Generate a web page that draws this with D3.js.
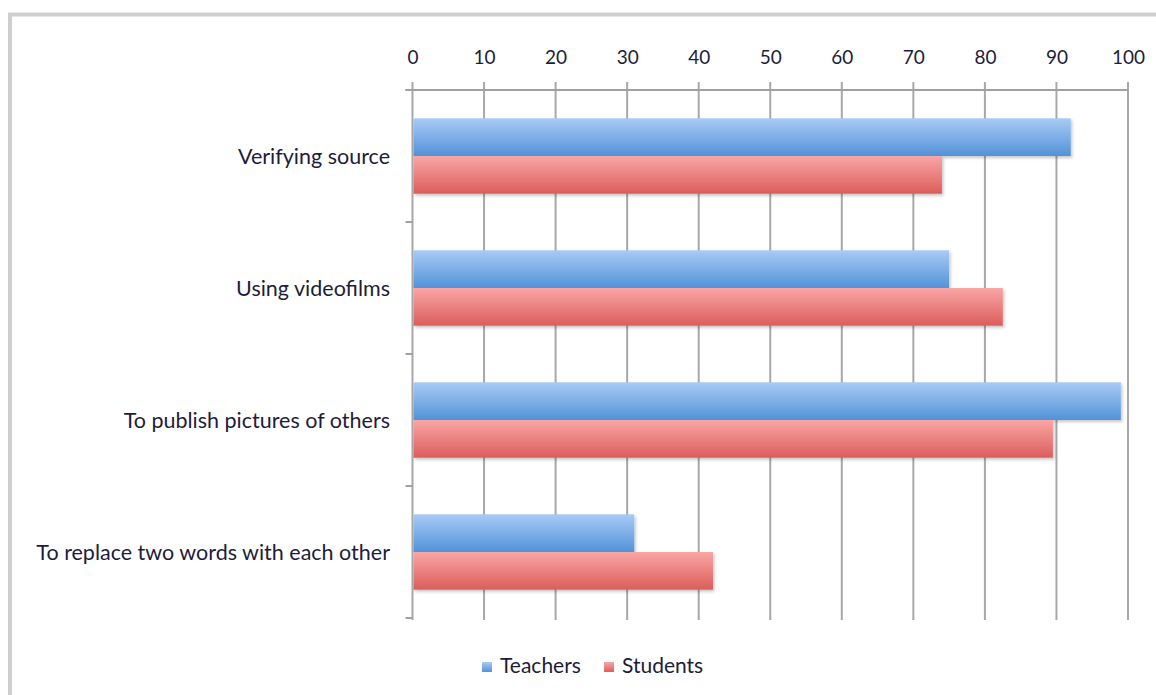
<!DOCTYPE html>
<html>
<head>
<meta charset="utf-8">
<script src="https://cdn.jsdelivr.net/npm/d3@7"></script>
<style>
  html, body { margin: 0; padding: 0; background: #fff; }
  svg { display: block; }
  text { font-family: Lato, "Open Sans", sans-serif; fill: #1d1d3a; }
</style>
</head>
<body>
<script>
// Survey responses (%) per question, teachers vs students
const categories = [
  "Verifying source",
  "Using videofilms",
  "To publish pictures of others",
  "To replace two words with each other"
];
const seriesNames = ["Teachers", "Students"];
const teachers = [92, 75, 99, 31];
const students = [74, 82.5, 89.5, 42];
const tickValues = [0, 10, 20, 30, 40, 50, 60, 70, 80, 90, 100];

const W = 1156, H = 695;
const margin = { left: 412.5, right: 28, top: 90, bottom: 77 };

const svg = d3.select("body").append("svg")
  .attr("width", W).attr("height", H);

const defs = svg.append("defs");

// vertical gradients for the bars
const gradStops = {
  Teachers: ["#a9cbf6", "#5292d8"],
  Students: ["#f9a6a5", "#dc5d5b"]
};
seriesNames.forEach(name => {
  const g = defs.append("linearGradient")
    .attr("id", "grad-" + name)
    .attr("x1", 0).attr("y1", 0).attr("x2", 0).attr("y2", 1);
  g.append("stop").attr("offset", "0%").attr("stop-color", gradStops[name][0]);
  g.append("stop").attr("offset", "100%").attr("stop-color", gradStops[name][1]);
});

const shadow = defs.append("filter").attr("id", "barShadow")
  .attr("x", "-5%").attr("y", "-20%").attr("width", "110%").attr("height", "150%");
shadow.append("feDropShadow")
  .attr("dx", 1.5).attr("dy", 2).attr("stdDeviation", 1.5)
  .attr("flood-color", "#000").attr("flood-opacity", 0.22);

// outer frame
svg.append("rect")
  .attr("x", 10).attr("y", 14.5)
  .attr("width", W + 20).attr("height", H + 20)
  .attr("fill", "none").attr("stroke", "#cfcfcf").attr("stroke-width", 4);

const x = d3.scaleLinear().domain([0, 100])
  .range([margin.left, W - margin.right]);
const y = d3.scaleBand().domain(categories)
  .range([margin.top, H - margin.bottom]);
const ySub = d3.scaleBand().domain(seriesNames)
  .range([0, y.bandwidth()]).paddingOuter(0.75).paddingInner(0);

// vertical gridlines (with small tick stubs above the axis)
svg.append("g").selectAll("line").data(tickValues).join("line")
  .attr("x1", d => x(d)).attr("x2", d => x(d))
  .attr("y1", margin.top - 8).attr("y2", H - margin.bottom + 2)
  .attr("stroke", "#a8a8a8").attr("stroke-width", 2);

// top axis line
svg.append("line")
  .attr("x1", margin.left - 7).attr("x2", x(100))
  .attr("y1", margin.top).attr("y2", margin.top)
  .attr("stroke", "#a0a0a0").attr("stroke-width", 2);

// category axis with ticks at band boundaries
const boundaries = categories.map(c => y(c)).concat([y.range()[1]]);
svg.append("g").selectAll("line").data(boundaries).join("line")
  .attr("x1", margin.left - 7).attr("x2", margin.left)
  .attr("y1", d => d).attr("y2", d => d)
  .attr("stroke", "#a0a0a0").attr("stroke-width", 2);

// top tick labels
const xAxis = d3.axisTop(x).tickValues(tickValues).tickSize(0).tickPadding(0);
const gx = svg.append("g").attr("transform", `translate(0,${margin.top - 26})`).call(xAxis);
gx.select(".domain").remove();
gx.selectAll("text")
  .attr("font-size", 19).attr("font-weight", 400)
  .style("font-family", "Lato, 'Open Sans', sans-serif")
  .attr("fill", "#1d1d3a").attr("dy", "0");

// category labels
svg.append("g").selectAll("text").data(categories).join("text")
  .attr("x", 390)
  .attr("y", d => y(d) + y.bandwidth() / 2 + 3)
  .attr("text-anchor", "end")
  .attr("dominant-baseline", "middle")
  .attr("font-size", 21.5)
  .text(d => d);

// bars
const rows = categories.map((c, i) => ({ c, Teachers: teachers[i], Students: students[i] }));
const groups = svg.append("g").selectAll("g").data(rows).join("g")
  .attr("transform", d => `translate(0,${y(d.c)})`);
groups.selectAll("rect")
  .data(d => seriesNames.map(s => ({ s, v: d[s] })))
  .join("rect")
  .attr("x", x(0) + 1)
  .attr("y", d => ySub(d.s))
  .attr("width", d => x(d.v) - x(0) - 1)
  .attr("height", ySub.bandwidth())
  .attr("fill", d => `url(#grad-${d.s})`)
  .attr("filter", "url(#barShadow)");

// legend
const legendItems = [
  { s: "Teachers", x: 482 },
  { s: "Students", x: 604 }
];
const lg = svg.append("g").selectAll("g").data(legendItems).join("g")
  .attr("transform", d => `translate(${d.x},662)`);
lg.append("rect").attr("width", 10).attr("height", 10)
  .attr("fill", d => `url(#grad-${d.s})`);
lg.append("text").attr("x", 18).attr("y", 6)
  .attr("dominant-baseline", "middle")
  .attr("font-size", 21)
  .text(d => d.s);
</script>
</body>
</html>
